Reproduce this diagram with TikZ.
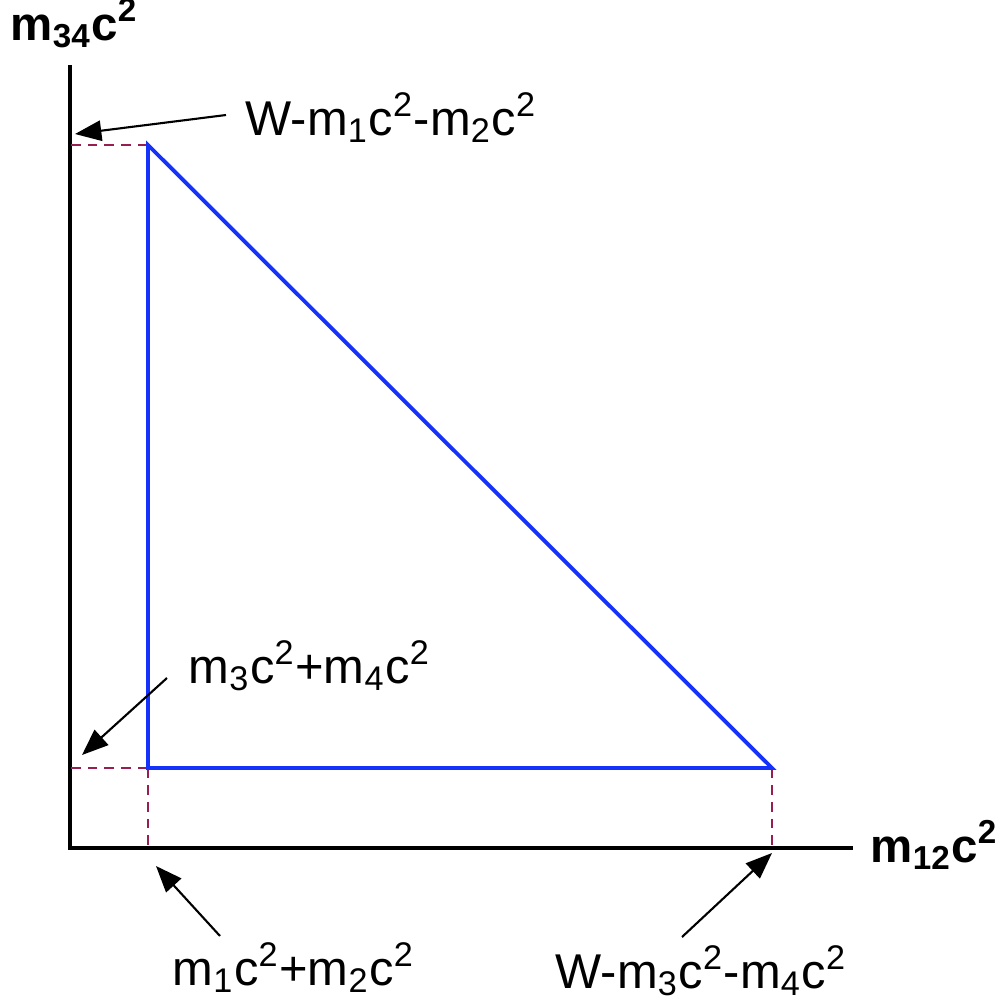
\documentclass[tikz,border=0pt]{standalone}
\usepackage{fontspec}
\setmainfont{Liberation Sans}
\usepackage{tikz}
\usetikzlibrary{arrows.meta,positioning,calc}
\definecolor{myblue}{RGB}{20,50,250}
\definecolor{mymaroon}{RGB}{150,30,80}

\begin{document}
\begin{tikzpicture}[x=0.1mm, y=-0.1mm, font=\fontsize{13.9}{16}\selectfont,
    axis/.style={black, line width=1.15pt},
    region/.style={myblue, line width=1.1pt, line join=miter},
    guide/.style={mymaroon, line width=0.55pt, dash pattern=on 2.8pt off 2pt},
    pointer/.style={black, line width=0.6pt, -{Triangle[length=7.5pt,width=5.8pt]}},
    lbl/.style={anchor=base west, inner sep=0pt},
    title/.style={lbl, font=\fontsize{13.5}{16}\selectfont\bfseries}]
  \useasboundingbox (0,0) rectangle (1000,1006);

  % axes
  \coordinate (O) at (70,848);
  \coordinate (ytop) at (70,65);
  \coordinate (xend) at (853,848);
  \draw[axis] (ytop) -- (O) -- (xend);

  % kinematic region
  \coordinate (A) at (148,145);
  \coordinate (B) at (148,768);
  \coordinate (C) at (772,768);
  \draw[guide] (A) -- (A -| O);
  \draw[guide] (B) -- (B -| O);
  \draw[guide] (B) -- (B |- O);
  \draw[guide] (C) -- (C |- O);
  \draw[region] (A) -- (B) -- (C) -- cycle;

  % axis titles
  \node[title] (ytitle) at (10,40) {m\textsubscript{34}c\textsuperscript{2}};
  \node[title] (xtitle) at (870,862) {m\textsubscript{12}c\textsuperscript{2}};

  % limits
  \node[lbl] (ymax) at (245,135) {W-m\textsubscript{1}c\textsuperscript{2}-m\textsubscript{2}c\textsuperscript{2}};
  \node[lbl] (ymin) at (188,683) {m\textsubscript{3}c\textsuperscript{2}+m\textsubscript{4}c\textsuperscript{2}};
  \node[lbl] (xmin) at (172,985) {m\textsubscript{1}c\textsuperscript{2}+m\textsubscript{2}c\textsuperscript{2}};
  \node[lbl] (xmax) at (555,988) {W-m\textsubscript{3}c\textsuperscript{2}-m\textsubscript{4}c\textsuperscript{2}};

  \coordinate (ymaxtip) at (75,134);
  \coordinate (ymintip) at (82,755);
  \coordinate (xmintip) at (156,866);
  \coordinate (xmaxtip) at (772,853);
  \coordinate (ymaxtail) at (226,115);
  \coordinate (ymintail) at (167,678);
  \coordinate (xmintail) at (220,936);
  \coordinate (xmaxtail) at (682,937);
  \draw[pointer] (ymaxtail) -- (ymaxtip);
  \draw[pointer] (ymintail) -- (ymintip);
  \draw[pointer] (xmintail) -- (xmintip);
  \draw[pointer] (xmaxtail) -- (xmaxtip);
\end{tikzpicture}
\end{document}
